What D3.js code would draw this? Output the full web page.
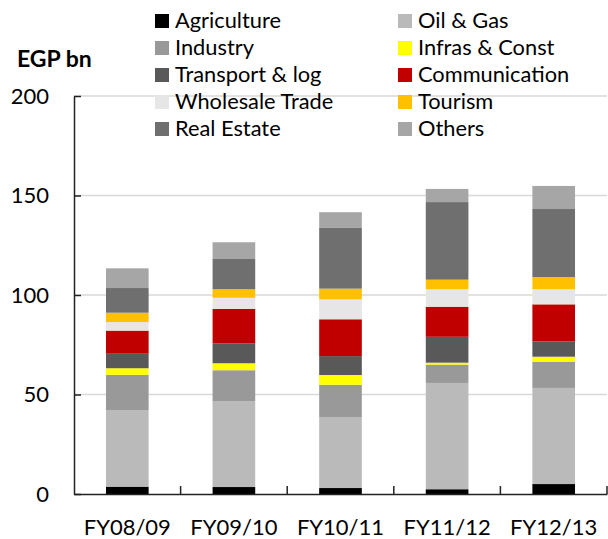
<!DOCTYPE html>
<html>
<head>
<meta charset="utf-8">
<script src="https://cdn.jsdelivr.net/npm/d3@7"></script>
<style>
  html, body { margin: 0; padding: 0; background: #fff; }
  svg { display: block; }
  text { font-family: Lato, "Open Sans", sans-serif; fill: #000; }
</style>
</head>
<body>
<svg id="chart" width="608" height="539"></svg>
<script>
const categories = ["FY08/09", "FY09/10", "FY10/11", "FY11/12", "FY12/13"];
const seriesNames = ["Agriculture", "Oil & Gas", "Industry", "Infras & Const", "Transport & log",
  "Communication", "Wholesale Trade", "Tourism", "Real Estate", "Others"];
const agriculture   = [3.7, 3.5, 3.0, 2.4, 5.0];
const oilGas        = [38.5, 43.2, 35.7, 53.4, 48.3];
const industry      = [17.7, 15.5, 16.2, 9.2, 13.2];
const infras        = [3.3, 3.5, 4.9, 1.0, 2.5];
const transport     = [7.3, 10.0, 9.5, 13.0, 7.7];
const communication = [11.6, 17.3, 18.5, 15.1, 18.6];
const wholesale     = [4.3, 5.6, 10.0, 8.8, 7.6];
const tourism       = [4.7, 4.3, 5.4, 4.8, 6.1];
const realEstate    = [12.4, 15.2, 30.5, 39.0, 34.2];
const others        = [9.9, 8.4, 7.9, 6.6, 11.6];
const yTicks = [0, 50, 100, 150, 200];

const seriesValues = [agriculture, oilGas, industry, infras, transport,
  communication, wholesale, tourism, realEstate, others];
const colors = ["#000000", "#bababa", "#999999", "#ffff00", "#595959",
  "#c00000", "#e6e6e6", "#ffc000", "#6f6f6f", "#a6a6a6"];

const rows = categories.map((c, i) => {
  const r = { cat: c };
  seriesNames.forEach((s, j) => r[s] = seriesValues[j][i]);
  return r;
});

const svg = d3.select("#chart");
const plotLeft = 74, plotRight = 607, plotTop = 96, plotBottom = 494;

const x = d3.scaleBand().domain(categories).range([plotLeft, plotRight])
  .paddingInner(0.6).paddingOuter(0.3);
const y = d3.scaleLinear().domain([0, 200]).range([plotBottom, plotTop]);

// gridlines
svg.append("g").selectAll("line").data(yTicks.filter(d => d > 0)).join("line")
  .attr("x1", plotLeft).attr("x2", plotRight)
  .attr("y1", d => y(d)).attr("y2", d => y(d))
  .attr("stroke", "#d9d9d9").attr("stroke-width", 1.5);

// stacked bars
const stack = d3.stack().keys(seriesNames)(rows);
svg.append("g").selectAll("g").data(stack).join("g")
  .attr("fill", (d, i) => colors[i])
  .selectAll("rect").data(d => d).join("rect")
  .attr("x", d => x(d.data.cat))
  .attr("width", x.bandwidth())
  .attr("y", d => y(d[1]))
  .attr("height", d => y(d[0]) - y(d[1]));

// y axis
const yAxis = svg.append("g").attr("transform", `translate(${plotLeft},0)`)
  .call(d3.axisLeft(y).tickValues(yTicks).tickSizeInner(-7).tickSizeOuter(0).tickPadding(25));
yAxis.select(".domain").attr("stroke", "#222").attr("stroke-width", 1.5);
yAxis.selectAll(".tick line").attr("stroke", "#222").attr("stroke-width", 1.5);
yAxis.selectAll(".tick text").style("font-size", "22px").style("font-family", "Lato, sans-serif").attr("fill", "#000");

// x axis
const xAxis = svg.append("g").attr("transform", `translate(0,${plotBottom})`)
  .call(d3.axisBottom(x).tickSize(0).tickPadding(25));
xAxis.select(".domain").attr("stroke", "#222").attr("stroke-width", 1.5);
xAxis.selectAll(".tick text").style("font-size", "22px").style("font-family", "Lato, sans-serif").attr("fill", "#000");
const boundaries = categories.map((c, i) => x(c) - x.step() * x.paddingInner() / 2 + x.step());
svg.append("g").selectAll("line").data(boundaries).join("line")
  .attr("x1", d => d).attr("x2", d => d)
  .attr("y1", plotBottom).attr("y2", plotBottom - 8)
  .attr("stroke", "#222").attr("stroke-width", 1.5);

// y title
svg.append("text").attr("x", 17).attr("y", 67)
  .style("font-size", "23px").style("font-weight", "bold").text("EGP bn");

// legend
const leg = svg.append("g");
seriesNames.forEach((s, i) => {
  const col = i % 2, row = Math.floor(i / 2);
  const gx = col === 0 ? 155 : 398, gy = 14 + row * 27;
  leg.append("rect").attr("x", gx).attr("y", gy).attr("width", 14).attr("height", 14).attr("fill", colors[i]);
  leg.append("text").attr("x", gx + 20).attr("y", gy + 13.5).style("font-size", "21.8px").text(s);
});
</script>
</body>
</html>
